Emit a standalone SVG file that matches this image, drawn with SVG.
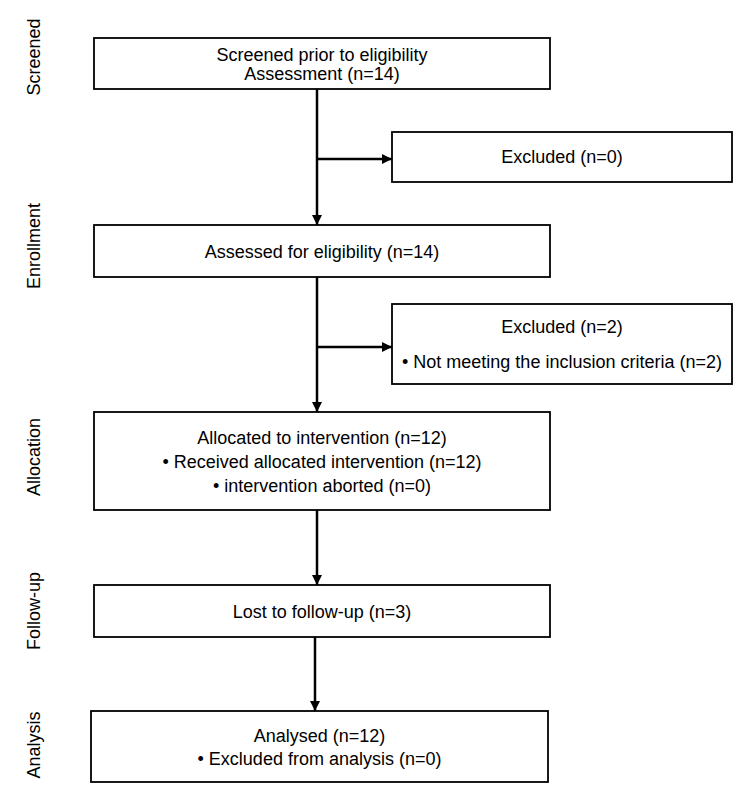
<svg xmlns="http://www.w3.org/2000/svg" width="750" height="806" viewBox="0 0 750 806">
<defs>
<marker id="ah" viewBox="0 0 10 10" refX="10" refY="5" markerWidth="4" markerHeight="4" orient="auto" markerUnits="strokeWidth">
<path d="M0,0 L10,5 L0,10 z" fill="#000"/>
</marker>
<style>
rect{fill:#fff;stroke:#000;stroke-width:1.8}
text{font-family:"Liberation Sans",Arial,sans-serif;font-size:18px;fill:#000;text-anchor:middle}
.c{stroke:#000;stroke-width:2.5;fill:none;marker-end:url(#ah)}
</style>
</defs>
<rect x="0" y="0" width="750" height="806" style="fill:#fff;stroke:none"/>
<g id="side-labels">
<text transform="translate(40,57) rotate(-90)">Screened</text>
<text transform="translate(40,246) rotate(-90)">Enrollment</text>
<text transform="translate(40,457) rotate(-90)">Allocation</text>
<text transform="translate(40,611) rotate(-90)">Follow-up</text>
<text transform="translate(40,745) rotate(-90)">Analysis</text>
</g>
<g id="connectors">
<line class="c" x1="317" y1="89" x2="317" y2="225"/>
<line class="c" x1="317" y1="159" x2="392" y2="159"/>
<line class="c" x1="317" y1="277" x2="317" y2="412"/>
<line class="c" x1="317" y1="347" x2="392" y2="347"/>
<line class="c" x1="317" y1="510" x2="317" y2="585"/>
<line class="c" x1="315" y1="637" x2="315" y2="711"/>
</g>
<g id="screened">
<rect x="94" y="38" width="456" height="51"/>
<text x="322" y="60.5">Screened prior to eligibility</text>
<text x="322" y="80">Assessment (n=14)</text>
</g>
<g id="excluded1">
<rect x="392" y="132" width="340" height="50"/>
<text x="562" y="163">Excluded (n=0)</text>
</g>
<g id="assessed">
<rect x="94" y="225" width="456" height="52"/>
<text x="322" y="257.5">Assessed for eligibility (n=14)</text>
</g>
<g id="excluded2">
<rect x="392" y="304" width="340" height="80"/>
<text x="562" y="333">Excluded (n=2)</text>
<text x="562" y="368">• Not meeting the inclusion criteria (n=2)</text>
</g>
<g id="allocation">
<rect x="94" y="412" width="456" height="98"/>
<text x="322" y="443.5">Allocated to intervention (n=12)</text>
<text x="322" y="467.5">• Received allocated intervention (n=12)</text>
<text x="322" y="491.5">• intervention aborted (n=0)</text>
</g>
<g id="followup">
<rect x="94" y="585" width="456" height="52"/>
<text x="322" y="617.5">Lost to follow-up (n=3)</text>
</g>
<g id="analysis">
<rect x="91" y="711" width="457" height="71"/>
<text x="319.5" y="741.5">Analysed (n=12)</text>
<text x="319.5" y="764.5">• Excluded from analysis (n=0)</text>
</g>
</svg>
